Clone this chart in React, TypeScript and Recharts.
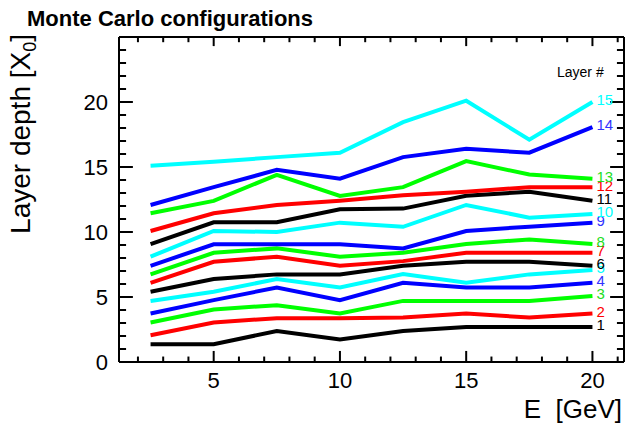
import React from 'react';
import { LineChart, Line, XAxis, YAxis, LabelList, ReferenceLine } from 'recharts';

const energies = [2.5, 5, 7.5, 10, 12.5, 15, 17.5, 20];
const layer1 = [1.36, 1.36, 2.39, 1.73, 2.39, 2.7, 2.7, 2.7];
const layer2 = [2.06, 3.04, 3.37, 3.37, 3.42, 3.73, 3.42, 3.73];
const layer3 = [3.04, 4.04, 4.37, 3.73, 4.7, 4.7, 4.7, 5.07];
const layer4 = [3.73, 4.76, 5.73, 4.76, 6.09, 5.73, 5.73, 6.09];
const layer5 = [4.7, 5.4, 6.38, 5.73, 6.76, 6.09, 6.74, 7.07];
const layer6 = [5.4, 6.38, 6.74, 6.74, 7.4, 7.71, 7.71, 7.4];
const layer7 = [6.09, 7.71, 8.1, 7.4, 7.76, 8.4, 8.4, 8.4];
const layer8 = [6.74, 8.4, 8.74, 8.1, 8.4, 9.07, 9.43, 9.07];
const layer9 = [7.4, 9.05, 9.05, 9.05, 8.74, 10.08, 10.41, 10.72];
const layer10 = [8.1, 10.08, 10.0, 10.72, 10.4, 12.08, 11.1, 11.39];
const layer11 = [9.07, 10.75, 10.75, 11.75, 11.8, 12.78, 13.1, 12.41];
const layer12 = [10.08, 11.44, 12.08, 12.41, 12.83, 13.1, 13.45, 13.45];
const layer13 = [11.44, 12.39, 14.4, 12.78, 13.45, 15.45, 14.42, 14.09];
const layer14 = [12.08, 13.45, 14.78, 14.1, 15.76, 16.4, 16.1, 18.07];
const layer15 = [15.09, 15.4, 15.76, 16.1, 18.45, 20.1, 17.1, 20.0];

const layers = [layer1, layer2, layer3, layer4, layer5, layer6, layer7, layer8, layer9, layer10, layer11, layer12, layer13, layer14, layer15];
const layerNames = ['1', '2', '3', '4', '5', '6', '7', '8', '9', '10', '11', '12', '13', '14', '15'];
const palette = ['#000000', '#ff0000', '#00ff00', '#0000ff', '#00ffff'];
const labelPalette = ['#000000', '#ff0000', '#22dd22', '#3333ff', '#00ffff'];

const xTicks = [2, 3, 4, 5, 6, 7, 8, 9, 10, 11, 12, 13, 14, 15, 16, 17, 18, 19, 20, 21];
const yTicks = [0, 1, 2, 3, 4, 5, 6, 7, 8, 9, 10, 11, 12, 13, 14, 15, 16, 17, 18, 19, 20, 21, 22, 23, 24, 25];
const xDomain = [1.25, 21.25];
const yDomain = [0, 25];

const title = 'Monte Carlo configurations';
const xTitle = 'E\u00a0\u00a0[GeV]';
const legendTitle = 'Layer #';

// inward tick lengths, in axis units
const xTickMajorLen = 0.85;
const xTickMinorLen = 0.42;
const xTickTopMajorLen = 0.7;
const xTickTopMinorLen = 0.4;
const yTickMajorLen = 0.55;
const yTickMinorLen = 0.28;

const data = energies.map((E, i) => {
  const row: Record<string, number> = { E };
  layers.forEach((l, k) => {
    row[`l${k + 1}`] = l[i];
  });
  return row;
});

const FONT = '"Liberation Sans", Arial, Helvetica, sans-serif';

const BottomLabel = (props: any) => {
  const x = Number(props.x);
  const y = Number(props.y);
  const v = props.payload.value;
  if (v % 5 !== 0) return <g />;
  return (
    <text x={x} y={y + 26} textAnchor="middle" fontSize={22} fontFamily={FONT} fill="#000" stroke="none">
      {v}
    </text>
  );
};

const LeftLabel = (props: any) => {
  const x = Number(props.x);
  const y = Number(props.y);
  const v = props.payload.value;
  if (v % 5 !== 0 || v >= 25) return <g />;
  return (
    <text x={x - 11} y={y} dy="0.36em" textAnchor="end" fontSize={22} fontFamily={FONT} fill="#000" stroke="none">
      {v}
    </text>
  );
};

const makeEndLabel = (k: number) => (props: any) => {
  const { x, y, index } = props;
  if (index !== energies.length - 1) return null;
  return (
    <text x={Number(x) + 4} y={Number(y) - 2} dy="0.36em" fontSize={15} fontFamily={FONT} fill={labelPalette[k % 5]}>
      {layerNames[k]}
    </text>
  );
};

const tickStyle = { stroke: '#000', strokeWidth: 2 };

export default function App() {
  const [x0, x1] = xDomain;
  const [y0, y1] = yDomain;
  const innerX = xTicks.filter((v) => v > x0 && v < x1);
  const innerY = yTicks.filter((v) => v > y0 && v < y1);
  return (
    <div style={{ position: 'absolute', left: 0, top: 0, width: 630, height: 423, background: '#fff' }}>
      <LineChart width={630} height={423} data={data} margin={{ top: 37, right: 6, bottom: 0, left: 0 }}>
        <XAxis
          dataKey="E"
          type="number"
          domain={xDomain}
          ticks={xTicks}
          interval={0}
          height={61}
          tickSize={0}
          tickMargin={0}
          tickLine={false}
          tick={<BottomLabel />}
          axisLine={{ stroke: '#000', strokeWidth: 2 }}
        />
        <YAxis
          type="number"
          domain={yDomain}
          ticks={yTicks}
          interval={0}
          width={119}
          tickSize={0}
          tickMargin={0}
          tickLine={false}
          tick={<LeftLabel />}
          axisLine={{ stroke: '#000', strokeWidth: 2 }}
        />
        <ReferenceLine y={y1} stroke="#000" strokeWidth={2} />
        <ReferenceLine x={x1} stroke="#000" strokeWidth={2} />
        {innerX.map((v) => {
          const major = v % 5 === 0;
          return (
            <ReferenceLine
              key={`xb${v}`}
              segment={[{ x: v, y: y0 }, { x: v, y: y0 + (major ? xTickMajorLen : xTickMinorLen) }]}
              {...tickStyle}
            />
          );
        })}
        {innerX.map((v) => {
          const major = v % 5 === 0;
          return (
            <ReferenceLine
              key={`xt${v}`}
              segment={[{ x: v, y: y1 }, { x: v, y: y1 - (major ? xTickTopMajorLen : xTickTopMinorLen) }]}
              {...tickStyle}
            />
          );
        })}
        {innerY.map((v) => {
          const major = v % 5 === 0;
          return (
            <ReferenceLine
              key={`yl${v}`}
              segment={[{ x: x0, y: v }, { x: x0 + (major ? yTickMajorLen : yTickMinorLen), y: v }]}
              {...tickStyle}
            />
          );
        })}
        {innerY.map((v) => {
          const major = v % 5 === 0;
          return (
            <ReferenceLine
              key={`yr${v}`}
              segment={[{ x: x1, y: v }, { x: x1 - (major ? yTickMajorLen : yTickMinorLen), y: v }]}
              {...tickStyle}
            />
          );
        })}
        {layers.map((_, k) => (
          <Line
            key={k}
            dataKey={`l${k + 1}`}
            stroke={palette[k % 5]}
            strokeWidth={4}
            dot={false}
            activeDot={false}
            isAnimationActive={false}
            strokeLinejoin="miter"
          >
            <LabelList dataKey={`l${k + 1}`} content={makeEndLabel(k)} />
          </Line>
        ))}
        <text x={27} y={26} fontSize={22} fontWeight="bold" fontFamily={FONT} fill="#000">
          {title}
        </text>
        <text x={622} y={418} textAnchor="end" fontSize={26} fontFamily={FONT} fill="#000">
          {xTitle}
        </text>
        <text x={30} y={34} textAnchor="end" transform="rotate(-90 30 34)" fontSize={28} fontFamily={FONT} fill="#000">
          Layer depth [X<tspan dy={6} fontSize={18}>0</tspan>
          <tspan dy={-6}>]</tspan>
        </text>
        <text x={557} y={77} fontSize={14} fontFamily={FONT} fill="#000">
          {legendTitle}
        </text>
      </LineChart>
    </div>
  );
}
